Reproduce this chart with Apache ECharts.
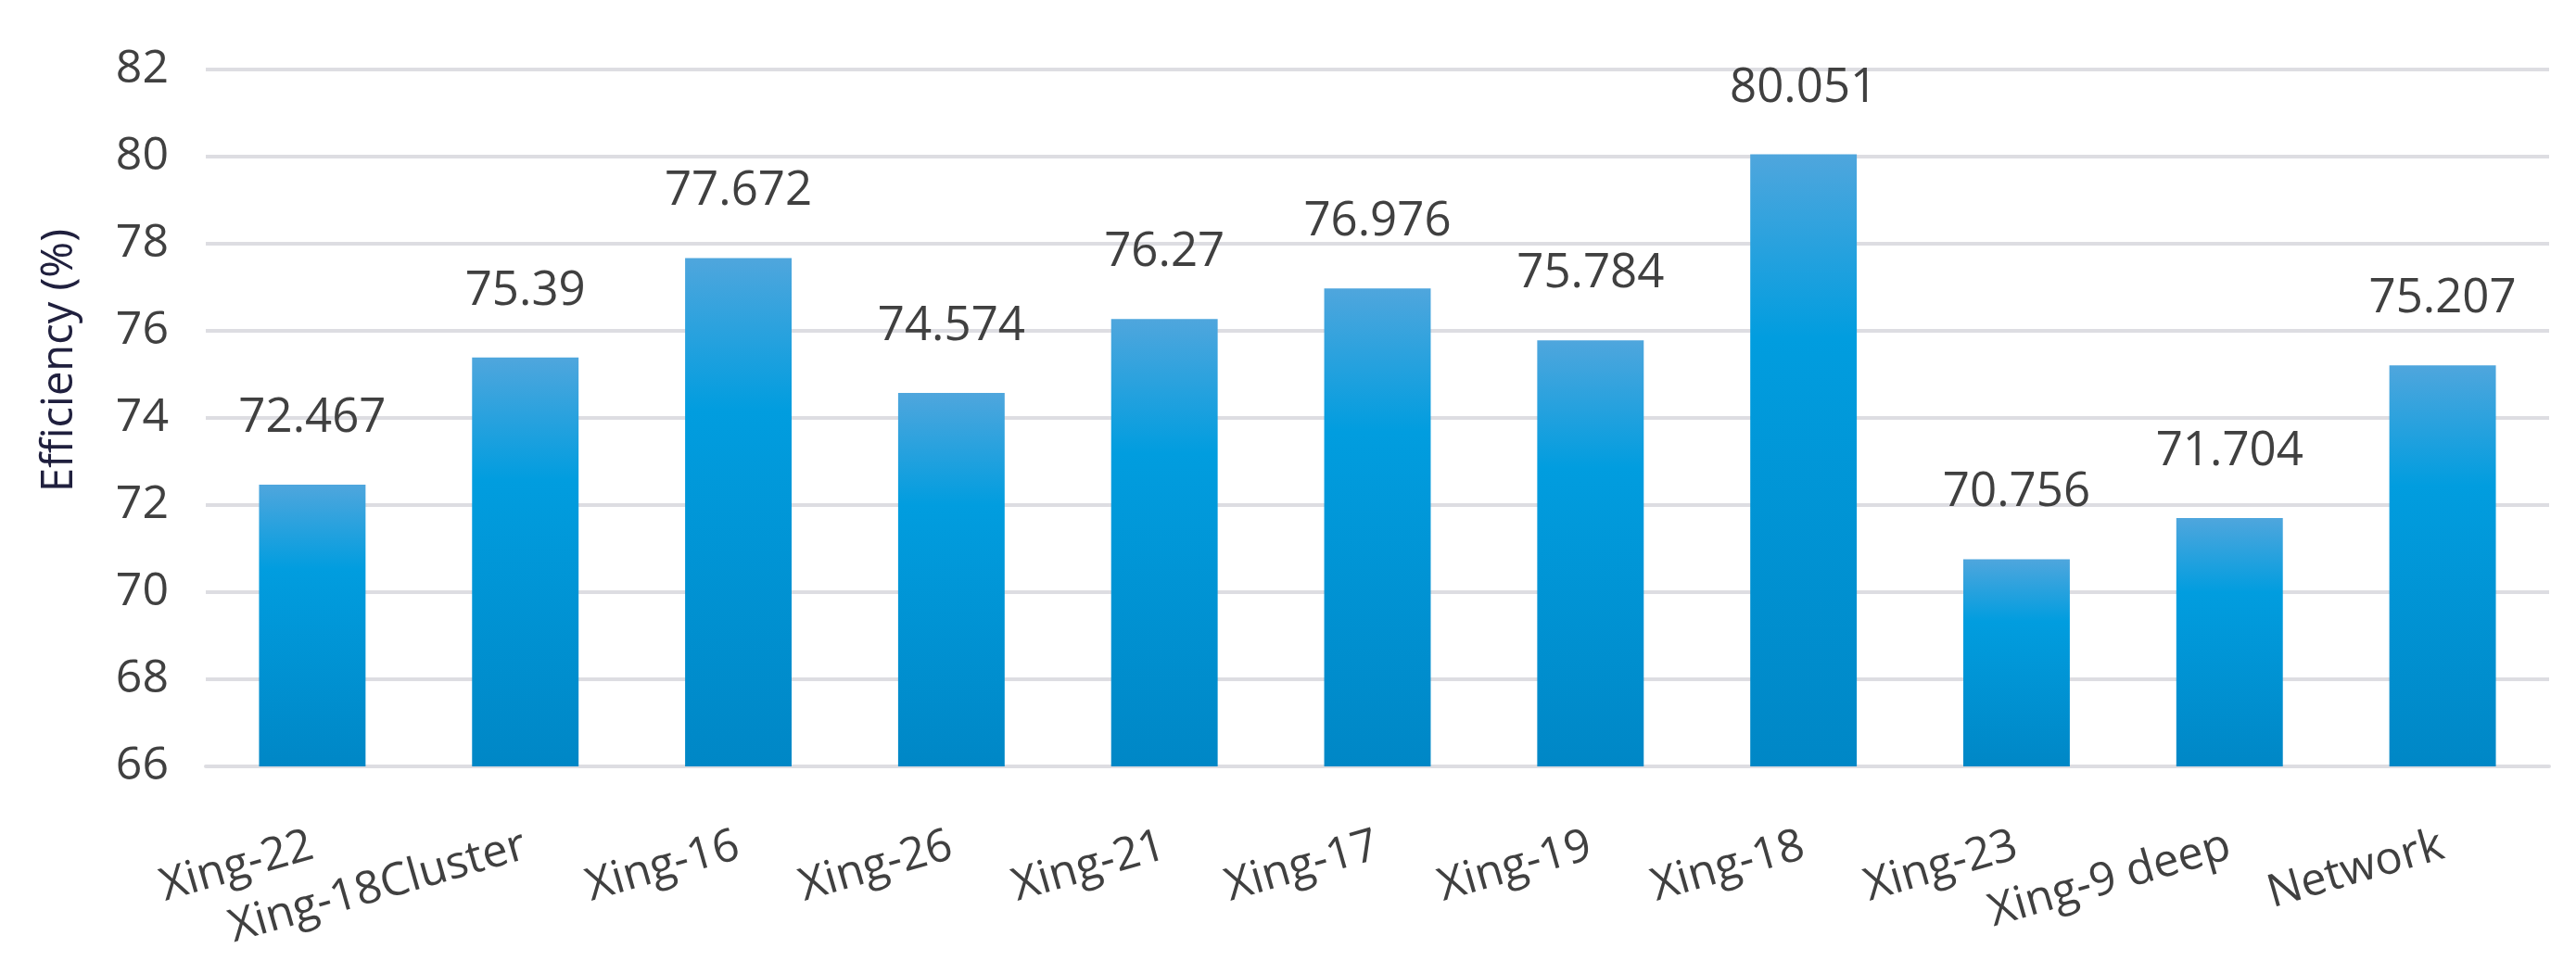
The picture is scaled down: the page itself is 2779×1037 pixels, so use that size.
<!DOCTYPE html>
<html>
<head>
<meta charset="utf-8">
<script src="https://cdn.jsdelivr.net/npm/echarts@6/dist/echarts.min.js"></script>
<style>
html,body{margin:0;padding:0;background:#fff;}
#chart{width:2779px;height:1037px;}
</style>
</head>
<body>
<div id="chart"></div>
<script>
const categories = ['Xing-22', 'Xing-18Cluster', 'Xing-16', 'Xing-26', 'Xing-21', 'Xing-17', 'Xing-19', 'Xing-18', 'Xing-23', 'Xing-9 deep', 'Network'];
const efficiency = [72.467, 75.39, 77.672, 74.574, 76.27, 76.976, 75.784, 80.051, 70.756, 71.704, 75.207];
const yTicks = { min: 66, max: 82, interval: 2 };
const yAxisTitle = 'Efficiency (%)';

const chart = echarts.init(document.getElementById('chart'), null, { renderer: 'canvas' });
const FONT = '"Open Sans", "Noto Sans", sans-serif';
const gridColor = '#dddde2';

chart.setOption({
  animation: false,
  backgroundColor: '#ffffff',
  grid: { left: 222, right: 29, top: 75, bottom: 210, containLabel: false },
  xAxis: {
    type: 'category',
    data: categories,
    axisTick: { show: false },
    axisLine: { show: true, lineStyle: { color: gridColor, width: 4 } },
    axisLabel: {
      rotate: 16,
      margin: 85,
      fontFamily: FONT,
      fontSize: 49,
      color: '#404040',
      interval: 0
    }
  },
  yAxis: {
    type: 'value',
    min: yTicks.min,
    max: yTicks.max,
    interval: yTicks.interval,
    name: yAxisTitle,
    nameLocation: 'middle',
    nameGap: 134,
    nameTextStyle: {
      fontFamily: FONT,
      fontSize: 47,
      color: '#20203e',
      padding: [0, 0, 0, 124]
    },
    axisLine: { show: false },
    axisTick: { show: false },
    axisLabel: {
      margin: 40,
      fontFamily: FONT,
      fontSize: 50,
      color: '#404040'
    },
    splitLine: { show: true, lineStyle: { color: gridColor, width: 4 } }
  },
  series: [{
    type: 'bar',
    data: efficiency,
    barWidth: '50%',
    itemStyle: {
      color: new echarts.graphic.LinearGradient(0, 0, 0, 1, [
        { offset: 0, color: '#4fa6dd' },
        { offset: 0.3, color: '#019ddf' },
        { offset: 1, color: '#0087c6' }
      ])
    },
    label: {
      show: true,
      position: 'top',
      distance: 46,
      fontFamily: FONT,
      fontSize: 51,
      color: '#404040'
    }
  }]
});
</script>
</body>
</html>
